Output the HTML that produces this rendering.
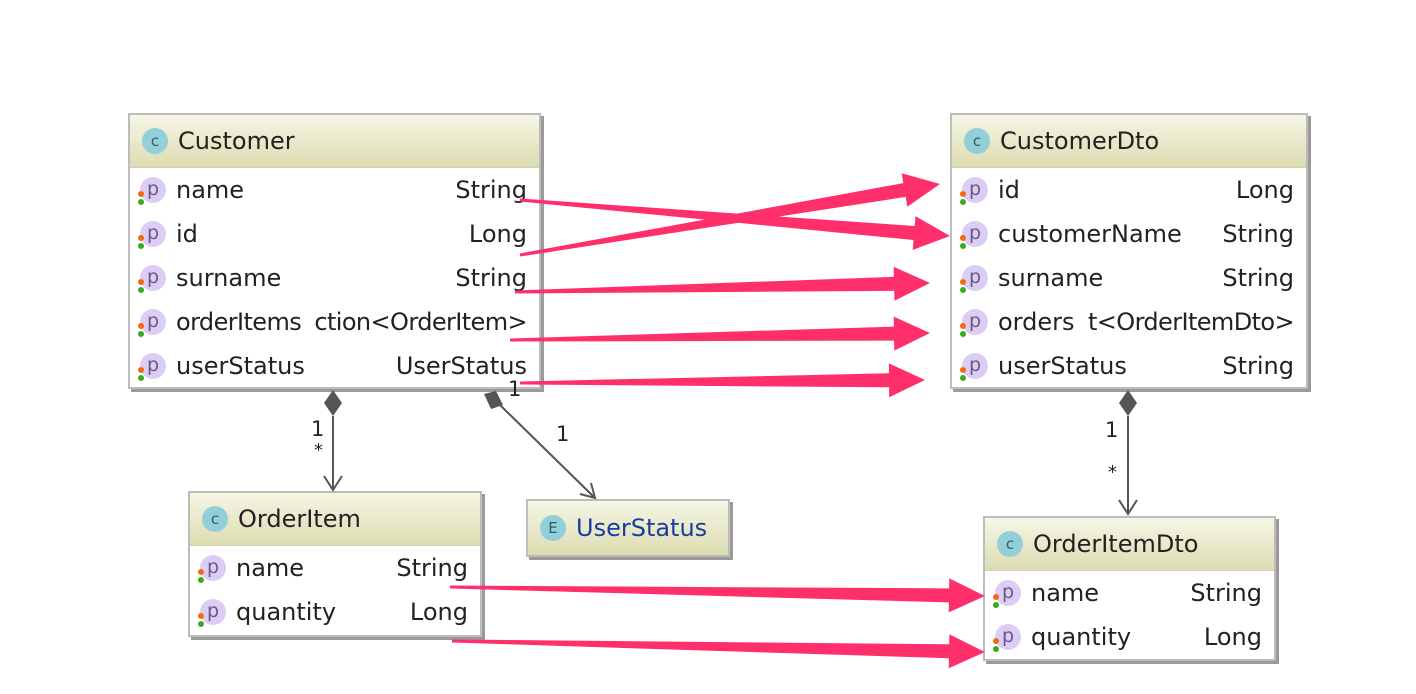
<!DOCTYPE html>
<html><head><meta charset="utf-8"><style>
body{margin:0;width:1416px;height:694px;background:#fff;position:relative;overflow:hidden;font-family:"DejaVu Sans",sans-serif;}
.box{position:absolute;background:#fff;border:2px solid #bcbcbc;box-shadow:3px 3px 0 #9a9a9a;box-sizing:border-box;}
.hd{height:52px;background:linear-gradient(#f6f6e6,#dcdcb2);display:flex;align-items:center;padding-left:12px;font-size:24px;color:#222;border-bottom:1px solid #d0d0b0;}
.ci{width:26px;height:26px;border-radius:50%;background:#93cfd8;color:#2f5f66;font-size:15px;display:inline-flex;align-items:center;justify-content:center;margin-right:10px;}
.row{height:44px;display:flex;align-items:center;font-size:24px;color:#222;position:relative;padding-left:46px;padding-right:12px;white-space:nowrap}
.row .t{position:absolute;right:12px;top:0;line-height:44px;}
.sq{letter-spacing:-0.6px}
.pi{position:absolute;left:10px;top:9px;width:26px;height:26px;border-radius:50%;background:#dccdf6;color:#6a5a80;font-size:19px;text-align:center;line-height:24px;}
.d1,.d2{position:absolute;width:6px;height:6px;border-radius:50%;left:8px;}
.d1{background:#f26b0e;top:23px}.d2{background:#3caa1e;top:31px}
svg{position:absolute;left:0;top:0;}
.lbl{position:absolute;font-size:21px;color:#222;}
</style></head><body>

<div class="box" style="left:128px;top:113px;width:413px;height:276px">
<div class="hd"><span class="ci">c</span>Customer</div>
<div class="row"><span class="pi">p</span><i class="d1"></i><i class="d2"></i>name<span class="t">String</span></div>
<div class="row"><span class="pi">p</span><i class="d1"></i><i class="d2"></i>id<span class="t">Long</span></div>
<div class="row"><span class="pi">p</span><i class="d1"></i><i class="d2"></i>surname<span class="t">String</span></div>
<div class="row"><span class="pi">p</span><i class="d1"></i><i class="d2"></i><span class="sq">orderItems</span><span class="t sq">ction&lt;OrderItem&gt;</span></div>
<div class="row"><span class="pi">p</span><i class="d1"></i><i class="d2"></i>userStatus<span class="t">UserStatus</span></div>
</div>

<div class="box" style="left:950px;top:113px;width:358px;height:276px">
<div class="hd"><span class="ci">c</span>CustomerDto</div>
<div class="row"><span class="pi">p</span><i class="d1"></i><i class="d2"></i>id<span class="t">Long</span></div>
<div class="row"><span class="pi">p</span><i class="d1"></i><i class="d2"></i>customerName<span class="t">String</span></div>
<div class="row"><span class="pi">p</span><i class="d1"></i><i class="d2"></i>surname<span class="t">String</span></div>
<div class="row"><span class="pi">p</span><i class="d1"></i><i class="d2"></i>orders<span class="t sq">t&lt;OrderItemDto&gt;</span></div>
<div class="row"><span class="pi">p</span><i class="d1"></i><i class="d2"></i>userStatus<span class="t">String</span></div>
</div>

<div class="box" style="left:188px;top:491px;width:294px;height:146px">
<div class="hd"><span class="ci">c</span>OrderItem</div>
<div class="row"><span class="pi">p</span><i class="d1"></i><i class="d2"></i>name<span class="t">String</span></div>
<div class="row"><span class="pi">p</span><i class="d1"></i><i class="d2"></i>quantity<span class="t">Long</span></div>
</div>

<div class="box" style="left:526px;top:499px;width:204px;height:58px">
<div class="hd" style="height:54px;border:none;color:#1a3da0"><span class="ci">E</span>UserStatus</div>
</div>

<div class="box" style="left:983px;top:516px;width:293px;height:145px">
<div class="hd"><span class="ci">c</span>OrderItemDto</div>
<div class="row"><span class="pi">p</span><i class="d1"></i><i class="d2"></i>name<span class="t">String</span></div>
<div class="row"><span class="pi">p</span><i class="d1"></i><i class="d2"></i>quantity<span class="t">Long</span></div>
</div>

<div class="lbl" style="left:311px;top:417px">1</div>
<div class="lbl" style="left:314px;top:440px;font-size:18px">*</div>
<div class="lbl" style="left:508px;top:377px">1</div>
<div class="lbl" style="left:556px;top:422px">1</div>
<div class="lbl" style="left:1105px;top:418px">1</div>
<div class="lbl" style="left:1108px;top:462px;font-size:18px">*</div>

<svg id="s" width="1416" height="694">
<g stroke="#555" stroke-width="2" fill="none">
<line x1="333" y1="416" x2="333" y2="490"/><polyline points="324,476 333,490 342,476"/>
<line x1="1128" y1="416" x2="1128" y2="514"/><polyline points="1119,500 1128,514 1137,500"/>
<line x1="500" y1="405" x2="595" y2="498"/><polyline points="580,494 595,498 591,483"/>
</g>
<g fill="#555">
<polygon points="333,390 342,403 333,416 324,403"/>
<polygon points="1128,390 1137,403 1128,416 1119,403"/>
<polygon points="484,394 496,391 503,405 491,409"/>
</g>
<g id="ar" fill="#ff2f6c"></g>
</svg>
<script>
var A=[[520,200,950,236],[520,255,940,184],[515,292,930,283],[510,340,930,333],[520,383,925,380],[450,587,985,596],[452,641,985,652]];
var g=document.getElementById('ar'),h='';
A.forEach(function(a){var dx=a[2]-a[0],dy=a[3]-a[1],L=Math.hypot(dx,dy),ux=dx/L,uy=dy/L,nx=-uy,ny=ux,hl=36;
var bx=a[2]-ux*hl,by=a[3]-uy*hl;function p(x,y,w){return (x+nx*w).toFixed(1)+','+(y+ny*w).toFixed(1)}
h+='<polygon points="'+[p(a[0],a[1],1.5),p(bx,by,7),p(bx,by,17),a[2]+','+a[3],p(bx,by,-17),p(bx,by,-7),p(a[0],a[1],-1.5)].join(' ')+'"/>';});
g.innerHTML=h;
</script>
</body></html>
